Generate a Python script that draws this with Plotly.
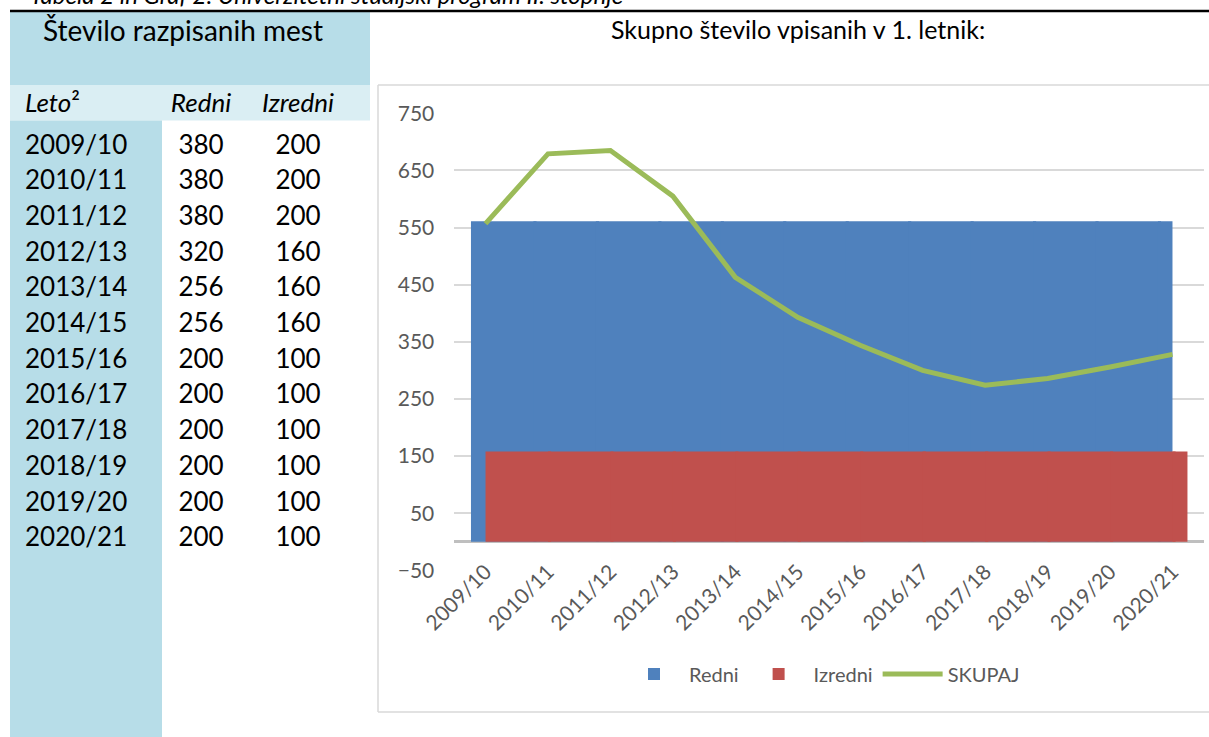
import plotly.graph_objects as go

# Data
leta = ['2009/10', '2010/11', '2011/12', '2012/13', '2013/14', '2014/15',
        '2015/16', '2016/17', '2017/18', '2018/19', '2019/20', '2020/21']
razpis_redni = [380, 380, 380, 320, 256, 256, 200, 200, 200, 200, 200, 200]
razpis_izredni = [200, 200, 200, 160, 160, 160, 100, 100, 100, 100, 100, 100]

redni = [561, 561, 561, 561, 561, 561, 561, 561, 561, 561, 561, 561]
izredni = [158, 158, 158, 158, 158, 158, 158, 158, 158, 158, 158, 158]
skupaj = [557, 679, 685, 605, 463, 393, 344, 300, 274, 286, 306, 328]

W, H = 1209, 737
FONT = 'Lato'
GRAY = '#595959'


def px(x):
    return x / W


def py(y):
    return 1 - y / H


fig = go.Figure()

# bars are drawn wide so that they merge into one block as in the source
n = len(leta)
fig.add_trace(go.Bar(
    x=leta, y=redni, name='Redni',
    marker=dict(color='#4f81bd', line=dict(width=0)),
    offset=-0.233, width=[1.05] * (n - 1) + [0.233],
))
fig.add_trace(go.Bar(
    x=leta, y=izredni, name='Izredni',
    marker=dict(color='#c0504d', line=dict(width=0)),
    offset=0, width=[1.05] * (n - 1) + [0.24],
))
fig.add_trace(go.Scatter(
    x=leta, y=skupaj, name='SKUPAJ', mode='lines',
    line=dict(color='#9bbb59', width=5),
))

# table on the left
fig.add_trace(go.Table(
    domain=dict(x=[px(17), px(359)], y=[0, py(78)]),
    columnwidth=[148, 72, 122],
    header=dict(
        values=['<i>Leto</i>²', '<i>Redni</i>', '<i>Izredni</i>'],
        fill_color='rgba(0,0,0,0)', line=dict(width=0),
        height=31.5, align=['left', 'center', 'center'],
        font=dict(family=FONT, size=26, color='black'),
    ),
    cells=dict(
        values=[leta, razpis_redni, razpis_izredni],
        fill_color='rgba(0,0,0,0)', line=dict(width=0),
        height=35.7, align=['left', 'center', 'center'],
        font=dict(family=FONT, size=26, color='black'),
    ),
))

border = dict(color='#d9d9d9', width=1.5)
shapes = [
    dict(type='rect', xref='paper', yref='paper', x0=px(10), x1=px(370), y0=py(85), y1=py(12),
         fillcolor='#b7dde8', line=dict(width=0), layer='below'),
    dict(type='rect', xref='paper', yref='paper', x0=px(10), x1=px(370), y0=py(120.5), y1=py(85),
         fillcolor='#daeef3', line=dict(width=0), layer='below'),
    dict(type='rect', xref='paper', yref='paper', x0=px(10), x1=px(162), y0=0, y1=py(120.5),
         fillcolor='#b7dde8', line=dict(width=0), layer='below'),
    dict(type='line', xref='paper', yref='paper', x0=px(10), x1=1, y0=py(11), y1=py(11),
         line=dict(color='black', width=2.5)),
    # chart frame (right side is outside the picture)
    dict(type='line', xref='paper', yref='paper', x0=px(378), x1=1, y0=py(85), y1=py(85),
         line=border, layer='below'),
    dict(type='line', xref='paper', yref='paper', x0=px(378), x1=1, y0=py(712), y1=py(712),
         line=border, layer='below'),
    dict(type='line', xref='paper', yref='paper', x0=px(378), x1=px(378), y0=py(712), y1=py(85),
         line=border, layer='below'),
]

annotations = [
    dict(text='<i>Tabela 2 in Graf 2: Univerzitetni študijski program II. stopnje</i>',
         xref='paper', yref='paper', x=px(28), y=py(11.5), xanchor='left', yanchor='bottom',
         showarrow=False, font=dict(family=FONT, size=24, color='black')),
    dict(text='Število razpisanih mest', xref='paper', yref='paper', x=px(183), y=py(30),
         xanchor='center', yanchor='middle', showarrow=False,
         font=dict(family=FONT, size=28, color='black')),
    dict(text='Skupno število vpisanih v 1. letnik:', xref='paper', yref='paper', x=px(798), y=py(29),
         xanchor='center', yanchor='middle', showarrow=False,
         font=dict(family=FONT, size=25, color='black')),
]

fig.update_layout(
    width=W, height=H, autosize=False,
    margin=dict(l=0, r=0, t=0, b=0, autoexpand=False),
    paper_bgcolor='white', plot_bgcolor='white',
    barmode='overlay',
    shapes=shapes, annotations=annotations,
    xaxis=dict(domain=[px(454.3), px(1203.7)], type='category', range=[-0.5, 11.5],
               showgrid=False, showline=False, zeroline=False, ticks='', automargin=False,
               tickangle=-45, ticklabelstandoff=-16,
               tickfont=dict(family=FONT, size=21, color=GRAY)),
    yaxis=dict(domain=[py(570.4), py(113.3)], range=[-50, 750],
               tickvals=[-50, 50, 150, 250, 350, 450, 550, 650, 750],
               showgrid=True, gridcolor='#d9d9d9', gridwidth=1.5,
               zeroline=True, zerolinecolor='#bfbfbf', zerolinewidth=3,
               showline=False, ticks='', ticklabelstandoff=19, automargin=False,
               tickfont=dict(family=FONT, size=21, color=GRAY)),
    legend=dict(orientation='h', x=px(822), y=py(674), xanchor='center', yanchor='middle',
                font=dict(family=FONT, size=20, color=GRAY), itemwidth=60,
                tracegroupgap=0, bgcolor='rgba(0,0,0,0)'),
)

# page body has a default 8px margin; drop it so the figure sits at the window corner
fig.write_html('out.html', config={'displayModeBar': False},
               post_script="document.body.style.margin = '0';")
